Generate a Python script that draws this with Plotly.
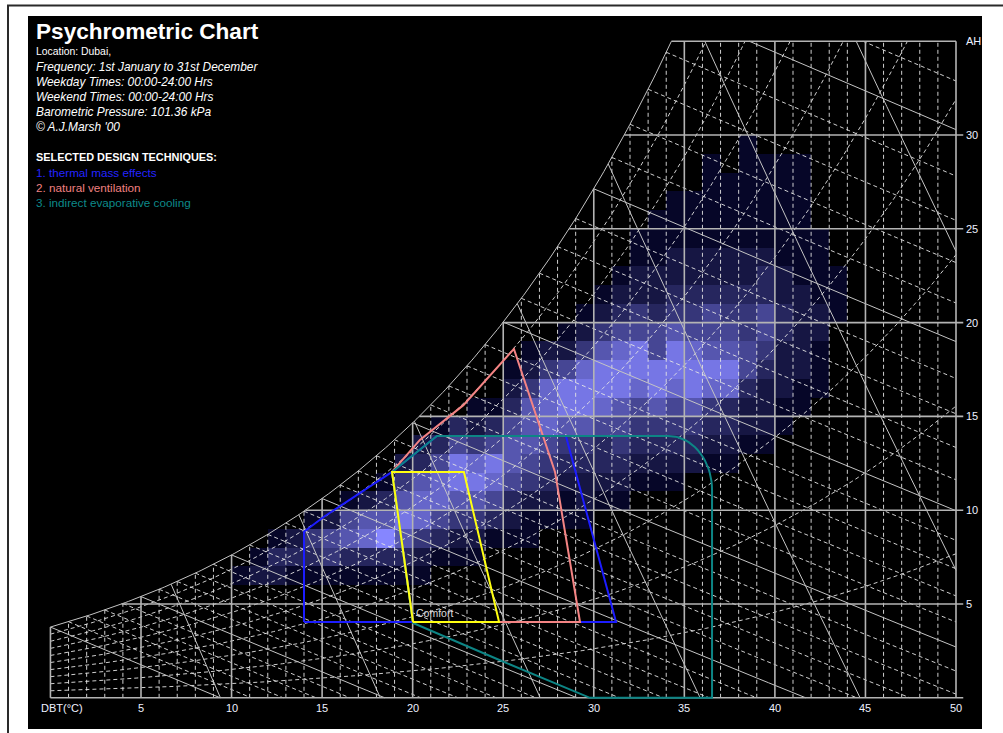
import numpy as np
import plotly.graph_objects as go

# ---------------------------------------------------------------------------
# Chart constants
# ---------------------------------------------------------------------------
P_ATM = 101.36          # barometric pressure, kPa
DBT_MAX = 50.0          # right edge of chart, degC
AH_TOP = 35.0           # top edge of chart, g/kg

W_PX, H_PX = 1003, 733
X_RANGE = [-2.785, 52.595]
Y_RANGE = [-1.876, 37.196]

# axis ticks
dbt_ticks = [5, 10, 15, 20, 25, 30, 35, 40, 45, 50]
ah_ticks = [5, 10, 15, 20, 25, 30]

# psychrometric families
rh_steps = [0.1, 0.2, 0.3, 0.4, 0.5, 0.6, 0.7, 0.8, 0.9]
wb_solid = [0, 5, 10, 15, 20, 25, 30, 35]
wb_dashed = [t for t in range(1, 37) if t % 5]
sv_lines = [0.800, 0.825, 0.850, 0.875, 0.900, 0.925, 0.950]

# ---------------------------------------------------------------------------
# Hourly climate frequency (Dubai): 1 degC columns, 1 g/kg cells,
# intensity level 1..9 listed bottom-up from ah_floor
# ---------------------------------------------------------------------------
dbt_cols = list(range(10, 44))
ah_floor = [6, 6, 6, 6, 6, 6, 6, 6, 6, 6, 6, 7, 7, 7, 8, 8, 8, 9, 9, 9,
            10, 10, 11, 11, 11, 12, 12, 12, 13, 13, 14, 15, 16, 20]
cell_levels = [
    [1],
    [2, 1],
    [2, 3, 1],
    [1, 3, 2],
    [1, 3, 4, 1],
    [1, 4, 5, 2],
    [1, 3, 6, 5, 1],
    [1, 3, 7, 6, 2],
    [1, 3, 9, 6, 3, 1],
    [1, 3, 6, 8, 6, 4, 2],
    [1, 2, 4, 7, 7, 6, 3, 2],
    [1, 3, 5, 7, 7, 5, 3, 1],
    [1, 2, 4, 6, 8, 8, 5, 3],
    [1, 2, 4, 6, 8, 7, 4, 2, 1],
    [1, 3, 5, 7, 8, 5, 3, 1],
    [1, 2, 3, 5, 6, 6, 5, 3, 2, 1],
    [1, 1, 2, 4, 5, 6, 6, 6, 4, 2, 1],
    [1, 2, 3, 4, 5, 7, 7, 7, 4, 2],
    [1, 1, 2, 3, 4, 6, 8, 8, 5, 2, 1],
    [1, 2, 2, 3, 4, 6, 8, 8, 7, 4, 2, 1],
    [1, 2, 3, 3, 5, 7, 8, 8, 6, 4, 2, 1],
    [1, 2, 3, 4, 5, 6, 8, 8, 7, 5, 3, 2, 1],
    [1, 2, 3, 4, 5, 7, 8, 8, 5, 4, 2, 2, 1, 1],
    [1, 2, 3, 4, 6, 8, 8, 5, 5, 3, 2, 2, 1, 1, 1],
    [1, 2, 3, 4, 5, 7, 8, 8, 6, 4, 3, 2, 2, 1, 1, 1],
    [2, 3, 4, 6, 8, 8, 7, 5, 4, 3, 2, 2, 1, 1, 1],
    [1, 2, 3, 4, 7, 8, 6, 5, 5, 3, 2, 2, 1, 1, 1, 1, 1],
    [1, 2, 3, 3, 7, 8, 6, 5, 4, 3, 2, 2, 1, 1, 1, 1],
    [1, 2, 2, 3, 5, 5, 4, 4, 3, 2, 2, 1, 1, 1, 1, 1, 1],
    [1, 2, 2, 2, 3, 4, 5, 5, 3, 3, 2, 1, 1, 1, 1, 1],
    [1, 1, 2, 2, 2, 3, 3, 2, 2, 1, 1, 1, 1, 1, 1],
    [1, 1, 2, 2, 2, 2, 2, 1, 1, 1, 1, 1, 1, 1],
    [1, 1, 1, 2, 2, 1, 1, 1, 1],
    [1, 1, 1],
]

# ---------------------------------------------------------------------------
# Design technique zones (DBT degC, AH g/kg)
# ---------------------------------------------------------------------------
thermal_dbt = [14.0, 31.23, 28.46, 21.34, 18.86, 15.1, 14.0, 14.0]
thermal_ah = [4.04, 4.04, 13.96, 13.96, 12.04, 9.65, 8.85, 4.04]

natvent_dbt = [20.02, 29.24, 27.86, 25.59, 22.8, 20.4, 18.86, 20.02]
natvent_ah = [4.04, 4.04, 12.04, 18.6, 15.6, 13.75, 12.04, 4.04]

evap_dbt = [18.86, 21.34, 34.1, 36.53, 36.53, 29.79, 24.82, 20.02, 18.86]
evap_ah = [12.04, 13.96, 13.96, 11.08, 0.0, 0.0, 2.0, 3.99, 12.04]
evap_round = 2  # rounded corner between vertices 2 and 3

comfort_dbt = [20.02, 24.77, 22.83, 18.86, 20.02]
comfort_ah = [4.04, 4.04, 12.04, 12.04, 4.04]

legend_items = [
    ("1. thermal mass effects", "#2424ff"),
    ("2. natural ventilation", "#f08080"),
    ("3. indirect evaporative cooling", "#0d8a8a"),
]
info_lines = [
    ("Location: Dubai,", False, 10.4),
    ("Frequency: 1st January to 31st December", True, 11.9),
    ("Weekday Times: 00:00-24:00 Hrs", True, 11.9),
    ("Weekend Times: 00:00-24:00 Hrs", True, 11.9),
    ("Barometric Pressure: 101.36 kPa", True, 11.9),
    ("\u00a9 A.J.Marsh '00", True, 11.9),
]


# ---------------------------------------------------------------------------
# Psychrometric relations
# ---------------------------------------------------------------------------
def p_ws(t):
    return 0.61094 * np.exp(17.625 * t / (t + 243.04))


def w_of(t, rh):
    pw = rh * p_ws(t)
    return 622.0 * pw / (P_ATM - pw)


def w_sat(t):
    return w_of(t, 1.0)


def enthalpy(t, w):
    return 1.006 * t + w / 1000.0 * (2501.0 + 1.86 * t)


def bisect(f, a, b, n=80):
    fa = f(a)
    for _ in range(n):
        m = 0.5 * (a + b)
        fm = f(m)
        if (fm > 0) == (fa > 0):
            a, fa = m, fm
        else:
            b = m
    return 0.5 * (a + b)


def t_sat_of_w(w):
    return bisect(lambda t: w_sat(t) - w, -30.0, 80.0)


T_TOP = t_sat_of_w(AH_TOP)


def add_seg(store, xs, ys):
    store[0].extend(list(xs) + [None])
    store[1].extend(list(ys) + [None])


solid_grid = ([], [])
solid_thin = ([], [])
dashed = ([], [])

# dry-bulb verticals
for t in range(0, 51):
    top = min(AH_TOP, w_sat(t))
    add_seg(solid_grid if t % 5 == 0 else dashed, [t, t], [0, top])

# absolute humidity horizontals (tick stubs past the right edge)
for k in [0] + ah_ticks:
    t0 = 0.0 if k <= w_sat(0.0) else t_sat_of_w(k)
    add_seg(solid_grid, [t0, DBT_MAX + 0.4], [k, k])
add_seg(solid_grid, [T_TOP, DBT_MAX], [AH_TOP, AH_TOP])

# saturation curve
ts = np.linspace(0.0, T_TOP, 240)
add_seg(solid_thin, ts, w_sat(ts))

# relative humidity curves
for rh in rh_steps:
    if w_of(DBT_MAX, rh) > AH_TOP:
        t_end = bisect(lambda t: w_of(t, rh) - AH_TOP, 0.0, 80.0)
    else:
        t_end = DBT_MAX
    tt = np.linspace(0.0, t_end, 200)
    add_seg(dashed, tt, w_of(tt, rh))


# wet-bulb (constant enthalpy) lines
def wb_line(tw):
    h0 = enthalpy(tw, w_sat(tw))
    t_a = max(tw, (h0 - AH_TOP / 1000 * 2501) / (1.006 + AH_TOP / 1000 * 1.86))
    t_b = min(DBT_MAX, h0 / 1.006)
    if t_a >= t_b:
        return None
    tt = np.linspace(t_a, t_b, 40)
    ww = 1000.0 * (h0 - 1.006 * tt) / (2501.0 + 1.86 * tt)
    return tt, ww


for tw in wb_solid:
    seg = wb_line(tw)
    if seg:
        add_seg(solid_thin, *seg)
for tw in wb_dashed:
    seg = wb_line(tw)
    if seg:
        add_seg(dashed, *seg)


# specific volume lines
def sv_line(v0):
    def t_of_w(w):
        return v0 * P_ATM / (0.287 * (1 + 1.6078e-3 * w)) - 273.15
    w_lo = 0.0
    if t_of_w(0.0) > DBT_MAX:
        w_lo = (v0 * P_ATM / (0.287 * (DBT_MAX + 273.15)) - 1) / 1.6078e-3
    g = lambda w: w_sat(t_of_w(w)) - w
    w_hi = AH_TOP if g(AH_TOP) > 0 else bisect(g, w_lo, AH_TOP)
    ww = np.linspace(w_lo, w_hi, 30)
    return t_of_w(ww), ww


for v0 in sv_lines:
    add_seg(solid_thin, *sv_line(v0))

# ---------------------------------------------------------------------------
# Figure
# ---------------------------------------------------------------------------
fig = go.Figure()


def level_color(lev):
    r = 6 + (lev - 1) * 16
    b = 40 + (lev - 1) * 27
    return f"rgb({r},{r},{b})"


cx, cb, cc = [], [], []
for col, lo, levels in zip(dbt_cols, ah_floor, cell_levels):
    for i, lev in enumerate(levels):
        cx.append(col + 0.5)
        cb.append(lo + i)
        cc.append(level_color(lev))

fig.add_trace(go.Bar(x=cx, y=[1] * len(cx), base=cb, width=1.0,
                     marker=dict(color=cc, line=dict(width=0)),
                     hoverinfo="skip"))

fig.add_trace(go.Scatter(x=dashed[0], y=dashed[1], mode="lines",
                         line=dict(color="rgba(228,228,228,0.9)", width=1, dash="4px,3px"),
                         hoverinfo="skip"))
fig.add_trace(go.Scatter(x=solid_thin[0], y=solid_thin[1], mode="lines",
                         line=dict(color="#c4c4c4", width=1), hoverinfo="skip"))
fig.add_trace(go.Scatter(x=solid_grid[0], y=solid_grid[1], mode="lines",
                         line=dict(color="#b4b4b4", width=1.6), hoverinfo="skip"))

# rounded corner of the evaporative cooling zone
i = evap_round
cx0, cy0 = evap_dbt[i], evap_ah[i + 1]
rx, ry = evap_dbt[i + 1] - evap_dbt[i], evap_ah[i] - evap_ah[i + 1]
ang = np.linspace(np.pi / 2, 0, 20)
evap_x = evap_dbt[:i] + list(cx0 + rx * np.cos(ang)) + evap_dbt[i + 2:]
evap_y = evap_ah[:i] + list(cy0 + ry * np.sin(ang)) + evap_ah[i + 2:]

zones = [
    (thermal_dbt, thermal_ah, "#1c1cff"),
    (natvent_dbt, natvent_ah, "#f48484"),
    (evap_x, evap_y, "#0d8585"),
    (comfort_dbt, comfort_ah, "#ffff10"),
]
for zx, zy, colr in zones:
    fig.add_trace(go.Scatter(x=zx, y=zy, mode="lines",
                             line=dict(color=colr, width=2), hoverinfo="skip"))

FONT = "Liberation Sans, Arial, sans-serif"
ann = []


def px_ann(text, x, y, size, color="white", xanchor="left"):
    ann.append(dict(text=text, x=x / W_PX, y=1 - y / H_PX, xref="paper", yref="paper",
                    xanchor=xanchor, yanchor="middle", showarrow=False,
                    font=dict(family=FONT, size=size, color=color)))


px_ann("<b>Psychrometric Chart</b>", 34, 31, 22.6)
for k, (txt, ital, sz) in enumerate(info_lines):
    px_ann(f"<i>{txt}</i>" if ital else txt, 34, 51.5 + 15.1 * k, sz)
px_ann("<b>SELECTED DESIGN TECHNIQUES:</b>", 34, 157, 10.9)
for k, (txt, colr) in enumerate(legend_items):
    px_ann(txt, 34, 172.5 + 15.2 * k, 11.7, colr)

# axis labels in data coordinates
TICK_COL = "#eef0ff"
for t in dbt_ticks:
    ann.append(dict(text=str(t), x=t, y=-0.55, xref="x", yref="y", showarrow=False,
                    xanchor="center", yanchor="middle",
                    font=dict(family=FONT, size=11, color=TICK_COL)))
ann.append(dict(text="DBT(\u00b0C)", x=0.64, y=-0.55, xref="x", yref="y", showarrow=False,
                xanchor="center", yanchor="middle",
                font=dict(family=FONT, size=11, color=TICK_COL)))
for a in ah_ticks:
    ann.append(dict(text=str(a), x=DBT_MAX + 0.45, y=a, xref="x", yref="y", showarrow=False,
                    xanchor="left", yanchor="middle",
                    font=dict(family=FONT, size=11, color=TICK_COL)))
ann.append(dict(text="AH", x=DBT_MAX + 0.45, y=AH_TOP, xref="x", yref="y", showarrow=False,
                xanchor="left", yanchor="middle",
                font=dict(family=FONT, size=11, color=TICK_COL)))
ann.append(dict(text="Comfort", x=20.1, y=4.5, xref="x", yref="y", showarrow=False,
                xanchor="left", yanchor="middle",
                font=dict(family=FONT, size=10.5, color="#dcdcdc")))

shapes = [
    # black chart panel
    dict(type="rect", xref="paper", yref="paper", layer="below",
         x0=28 / W_PX, x1=982 / W_PX, y0=1 - 729 / H_PX, y1=1 - 16 / H_PX,
         fillcolor="black", line=dict(width=0)),
    # window frame
    dict(type="line", xref="paper", yref="paper", x0=7 / W_PX, x1=1.0,
         y0=1 - 5.5 / H_PX, y1=1 - 5.5 / H_PX, line=dict(color="#2a2a2a", width=2)),
    dict(type="line", xref="paper", yref="paper", x0=8 / W_PX, x1=8 / W_PX,
         y0=0, y1=1 - 5 / H_PX, line=dict(color="#2a2a2a", width=2)),
]

fig.update_layout(
    width=W_PX, height=H_PX,
    margin=dict(l=0, r=0, t=0, b=0),
    paper_bgcolor="white", plot_bgcolor="white",
    showlegend=False, barmode="overlay", bargap=0,
    xaxis=dict(range=X_RANGE, visible=False, fixedrange=True),
    yaxis=dict(range=Y_RANGE, visible=False, fixedrange=True),
    annotations=ann, shapes=shapes,
)

fig.write_html("out.html")
